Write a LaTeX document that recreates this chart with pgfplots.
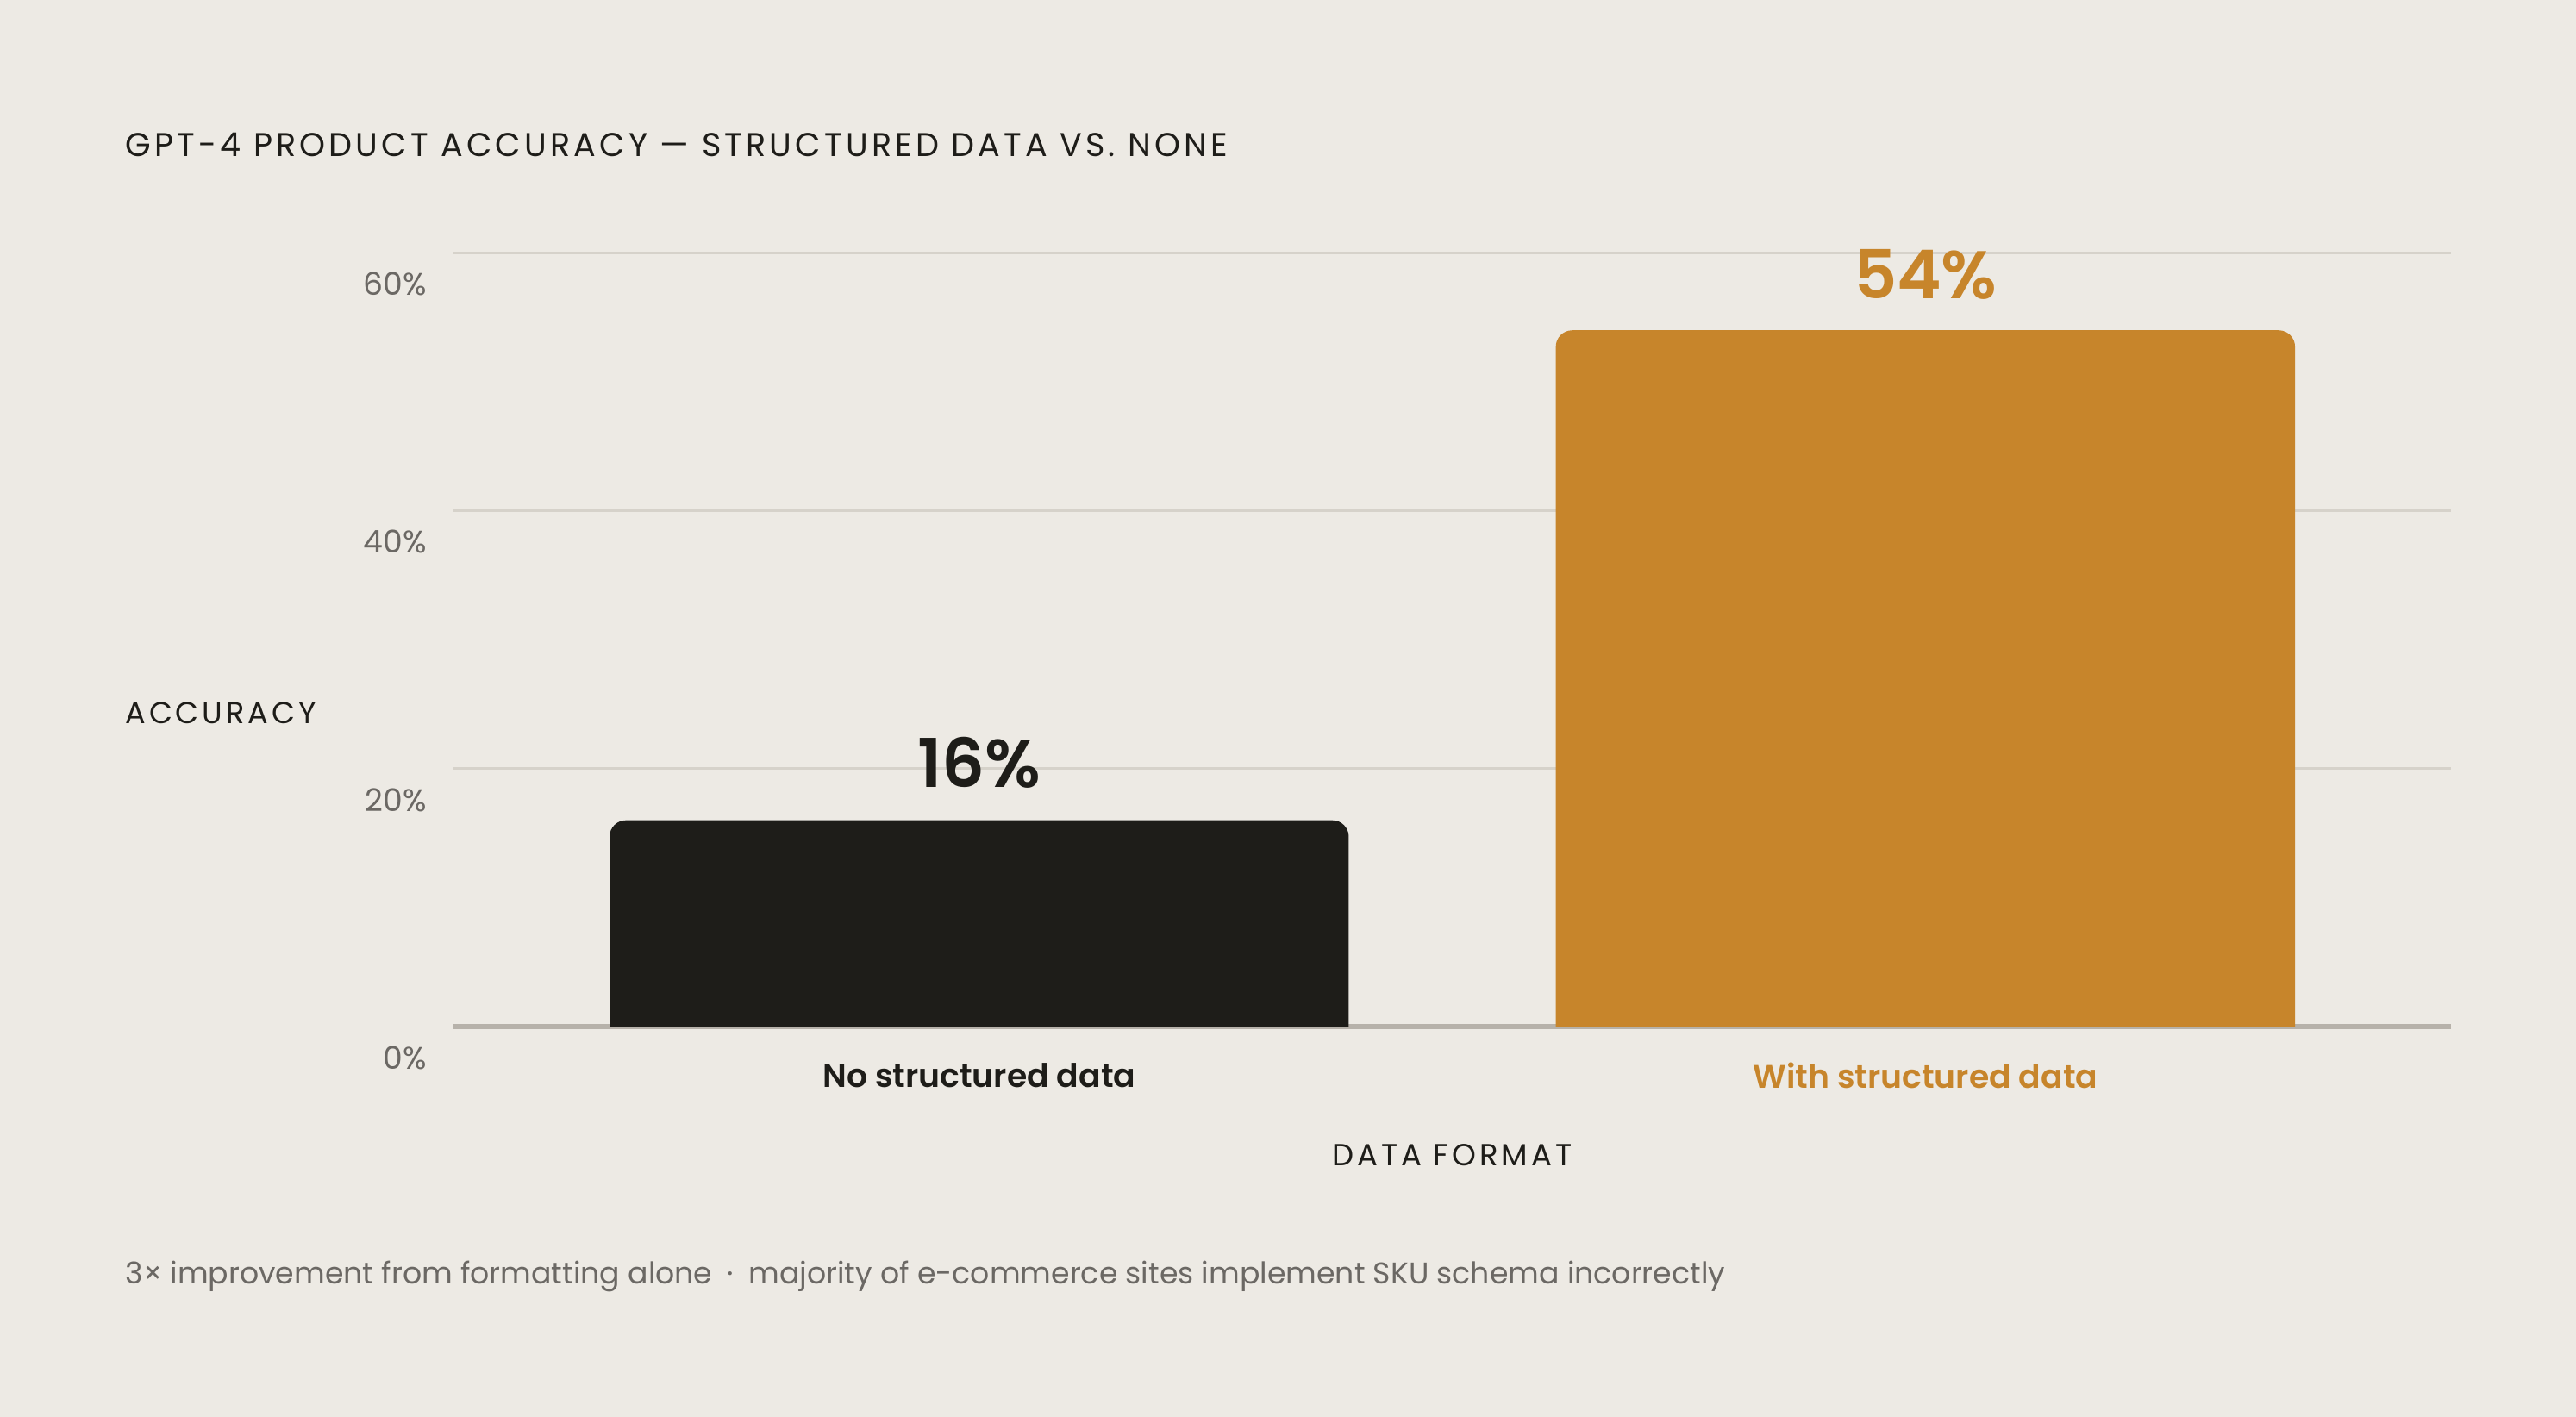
\documentclass[border=0pt]{standalone}
\usepackage{fontspec}
\setmainfont{Poppins}[BoldFont={Poppins SemiBold}]
\newfontfamily\spaced[LetterSpace=11]{Poppins}
\usepackage{pgfplots}
\pgfplotsset{compat=1.18}

\definecolor{bgc}{HTML}{EDEAE4}
\definecolor{darkc}{HTML}{1E1D19}
\definecolor{orangec}{HTML}{C7852B}
\definecolor{gridc}{HTML}{D6D2CA}
\definecolor{basec}{HTML}{B7B2AA}
\definecolor{greyc}{HTML}{6B6864}

\begin{document}
\begin{tikzpicture}
% page background, same proportions as the reference
\fill[bgc] (-138pt,-118.85pt) rectangle (646pt,312.5pt);

\begin{axis}[
  at={(0,0)}, anchor=south west,
  scale only axis,
  width=608pt, height=235.5pt,
  xmin=-0.5556, xmax=1.5556,
  ymin=0, ymax=60,
  axis line style={draw=none},
  major tick length=0pt,
  /pgf/number format/assume math mode=true,
  xtick={0,1},
  xticklabels={\textcolor{darkc}{No structured data},\textcolor{orangec}{With structured data}},
  xticklabel style={font=\fontsize{9.9}{12}\selectfont\bfseries, anchor=center, yshift=-15pt},
  ytick={0,20,40,60},
  yticklabel={\pgfmathprintnumber{\tick}\%},
  yticklabel style={font=\fontsize{9.5}{12}\selectfont, text=greyc, anchor=east,
    inner sep=0pt, xshift=-8pt, yshift=-9.5pt},
  ymajorgrids,
  grid style={color=gridc, line width=0.85pt},
  extra y ticks={0},
  extra y tick labels={},
  extra y tick style={grid style={color=basec, line width=1.5pt}},
]
% bars, rounded at the top only (the bottom is clipped at 0)
\addplot[fill=darkc, draw=none, rounded corners=5pt]
  coordinates {(-0.3906,-5) (-0.3906,16) (0.3906,16) (0.3906,-5)};
\addplot[fill=orangec, draw=none, rounded corners=5pt]
  coordinates {(0.6094,-5) (0.6094,54) (1.3906,54) (1.3906,-5)};

% value labels
\addplot[draw=none, mark=none, point meta=y,
  nodes near coords={\pgfmathprintnumber{\pgfplotspointmeta}\%},
  nodes near coords style={font=\fontsize{20.5}{24}\selectfont\bfseries,
    text=darkc, anchor=center, yshift=17.5pt}]
  coordinates {(0,16)};
\addplot[draw=none, mark=none, point meta=y,
  nodes near coords={\pgfmathprintnumber{\pgfplotspointmeta}\%},
  nodes near coords style={font=\fontsize{20.5}{24}\selectfont\bfseries,
    text=orangec, anchor=center, yshift=17pt}]
  coordinates {(1,54)};
\end{axis}

\node[anchor=west, inner sep=0pt, text=darkc, font=\spaced\fontsize{10}{12}\selectfont]
  at (-100pt,268.5pt) {GPT-4 PRODUCT ACCURACY — STRUCTURED DATA VS. NONE};
\node[anchor=west, inner sep=0pt, text=darkc, font=\spaced\fontsize{9.2}{12}\selectfont]
  at (-100pt,95.5pt) {ACCURACY};
\node[anchor=center, inner sep=0pt, text=darkc, font=\spaced\fontsize{9.3}{12}\selectfont]
  at (304pt,-39pt) {DATA FORMAT};
\node[anchor=west, inner sep=0pt, text=greyc, font=\fontsize{9.1}{12}\selectfont]
  at (-100pt,-76pt) {3× improvement from formatting alone\enspace·\enspace majority of e-commerce sites implement SKU schema incorrectly};
\end{tikzpicture}
\end{document}
